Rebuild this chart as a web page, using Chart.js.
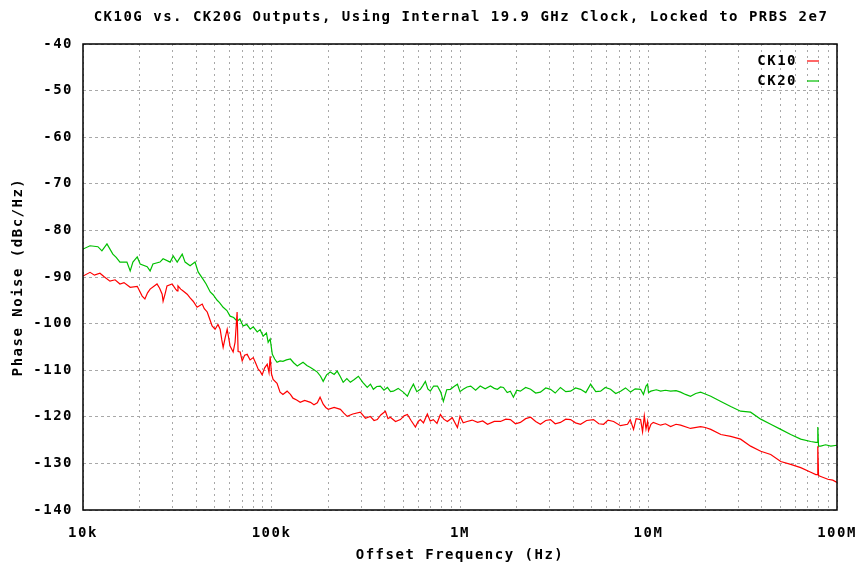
<!DOCTYPE html>
<html lang="en">
<head>
<meta charset="UTF-8">
<title>CK10G vs. CK20G Outputs</title>
<script src="https://cdn.jsdelivr.net/npm/chart.js"></script>
<style>
    body {
        margin: 0;
        padding: 0;
        background: #ffffff;
    }
    #wrap {
        width: 857px;
        height: 566px;
    }
</style>
</head>
<body>
<div id="wrap">
    <canvas id="myChart" width="857" height="566"></canvas>
</div>

<script>
    // offset frequency (Hz) and phase noise (dBc/Hz)
    var ck10Freq = [10000, 10900, 11500, 12300, 13000, 13900, 14800, 15700, 16500, 17800, 19400, 20600, 21300, 22000, 22700, 24700, 25500, 26300, 26600, 27300, 27900, 29700, 31000, 31600, 31900, 33000, 34000, 35700, 37000, 38400, 40300, 42900, 44000, 45600, 47000, 48400, 50200, 52000, 53400, 54500, 55400, 56800, 58200, 60300, 62600, 64100, 65700, 66500, 68200, 69900, 72000, 74300, 77000, 80000, 82500, 85000, 87000, 89200, 92000, 94900, 97000, 98400, 100000, 102000, 107000, 111000, 115000, 121000, 126000, 130000, 136000, 142000, 150000, 161000, 168000, 175000, 181000, 188000, 194000, 200000, 215000, 232000, 242000, 252000, 270000, 296000, 315000, 334000, 350000, 364000, 380000, 402000, 415000, 427000, 455000, 483000, 505000, 526000, 550000, 580000, 600000, 616000, 640000, 671000, 695000, 722000, 755000, 787000, 820000, 857000, 910000, 969000, 1000000, 1040000, 1090000, 1160000, 1240000, 1320000, 1400000, 1520000, 1640000, 1750000, 1850000, 1970000, 2090000, 2230000, 2370000, 2520000, 2670000, 2850000, 3020000, 3200000, 3410000, 3640000, 3860000, 4100000, 4360000, 4700000, 5110000, 5450000, 5780000, 6100000, 6530000, 7100000, 7740000, 8000000, 8330000, 8600000, 9080000, 9300000, 9500000, 9700000, 9890000, 10000000, 10300000, 10600000, 11600000, 12300000, 13100000, 14000000, 14800000, 16700000, 18900000, 20000000, 21400000, 24200000, 27300000, 30800000, 34800000, 39400000, 44500000, 50300000, 56800000, 64200000, 72600000, 77200000, 78500000, 79100000, 79800000, 82000000, 89400000, 95000000, 100000000];
    var ck10Val = [-89.8, -89.0, -89.6, -89.2, -90.0, -90.9, -90.6, -91.5, -91.2, -92.2, -92.0, -94.1, -94.7, -93.4, -92.6, -91.5, -92.4, -93.7, -95.2, -93.5, -91.9, -91.5, -92.6, -93.0, -91.9, -92.6, -93.0, -93.7, -94.5, -95.2, -96.5, -95.8, -96.8, -97.5, -99.0, -100.5, -101.2, -100.2, -101.2, -103.5, -105.1, -103.0, -101.2, -104.8, -106.1, -104.0, -97.5, -106.0, -106.1, -108.0, -106.8, -106.6, -107.8, -107.3, -108.5, -109.8, -110.2, -111.0, -109.5, -108.7, -110.5, -107.0, -110.8, -112.0, -112.8, -114.7, -115.2, -114.5, -115.2, -116.0, -116.4, -116.9, -116.5, -116.9, -117.4, -117.0, -115.8, -117.3, -118.0, -118.4, -118.0, -118.4, -119.2, -119.9, -119.4, -119.0, -120.3, -119.9, -120.8, -120.6, -119.6, -118.8, -120.4, -120.1, -121.0, -120.6, -119.8, -119.5, -120.8, -122.2, -121.0, -120.6, -121.3, -119.4, -120.9, -120.6, -121.4, -119.5, -120.5, -121.0, -120.2, -122.3, -119.9, -121.3, -121.0, -120.7, -121.2, -120.9, -121.6, -121.0, -121.0, -120.5, -120.6, -121.5, -121.2, -120.4, -120.1, -121.0, -121.6, -120.8, -120.6, -121.5, -121.2, -120.5, -120.6, -121.3, -121.6, -120.8, -120.6, -121.5, -121.6, -120.7, -121.0, -121.9, -121.6, -120.6, -122.7, -120.4, -120.6, -123.2, -119.8, -122.6, -121.0, -123.0, -121.6, -121.2, -121.8, -121.5, -122.1, -121.6, -121.8, -122.5, -122.1, -122.3, -122.7, -123.8, -124.2, -124.8, -126.3, -127.4, -128.1, -129.6, -130.2, -130.9, -131.9, -132.4, -132.4, -126.3, -132.6, -132.8, -133.4, -133.6, -134.1];

    var ck20Freq = [10000, 10900, 12000, 12600, 13400, 14400, 15000, 15700, 17100, 17800, 18400, 19400, 20100, 21900, 22700, 23500, 25600, 26600, 29000, 30100, 31600, 33600, 34800, 37000, 39300, 40800, 43400, 45000, 47300, 49000, 51500, 53000, 55400, 58000, 60300, 63000, 65700, 68000, 70700, 74000, 77100, 80000, 84000, 87000, 90300, 94000, 96000, 98400, 101000, 104000, 107000, 111000, 115000, 120000, 126000, 131000, 137000, 147000, 154000, 161000, 168000, 175000, 182000, 188000, 196000, 205000, 215000, 223000, 232000, 240000, 251000, 262000, 275000, 289000, 305000, 322000, 335000, 347000, 362000, 378000, 395000, 412000, 428000, 443000, 470000, 500000, 526000, 545000, 566000, 590000, 616000, 635000, 655000, 675000, 696000, 725000, 759000, 790000, 816000, 850000, 889000, 930000, 969000, 1000000, 1040000, 1090000, 1140000, 1210000, 1280000, 1360000, 1450000, 1520000, 1580000, 1640000, 1700000, 1780000, 1850000, 1920000, 2000000, 2090000, 2230000, 2370000, 2520000, 2670000, 2850000, 3020000, 3200000, 3410000, 3640000, 3860000, 4100000, 4360000, 4650000, 4930000, 5250000, 5570000, 5900000, 6290000, 6700000, 7110000, 7550000, 8030000, 8500000, 9080000, 9400000, 9700000, 9890000, 10000000, 10300000, 11000000, 11600000, 12300000, 13100000, 14000000, 14800000, 15700000, 16700000, 17800000, 18900000, 20000000, 21400000, 24200000, 27300000, 30800000, 34800000, 39400000, 44500000, 50300000, 56800000, 64200000, 72600000, 77200000, 78500000, 79100000, 79800000, 82000000, 87000000, 92700000, 100000000];
    var ck20Val = [-84.0, -83.3, -83.5, -84.4, -82.9, -85.1, -85.8, -86.8, -86.8, -88.7, -86.8, -85.7, -87.2, -87.8, -88.7, -87.2, -86.8, -86.1, -86.8, -85.5, -86.8, -85.1, -86.8, -87.6, -86.8, -88.9, -90.5, -91.5, -93.2, -93.8, -95.0, -95.5, -96.5, -97.2, -98.4, -98.7, -99.5, -99.0, -100.5, -100.2, -101.2, -100.7, -101.8, -101.3, -102.7, -102.0, -104.0, -103.3, -106.6, -107.6, -108.3, -108.0, -108.1, -107.8, -107.6, -108.4, -109.1, -108.3, -109.0, -109.4, -109.9, -110.4, -111.3, -112.4, -111.0, -110.4, -110.9, -110.2, -111.4, -112.6, -111.8, -112.6, -112.0, -111.3, -112.6, -113.7, -113.0, -114.1, -113.5, -113.4, -114.3, -113.7, -114.6, -114.5, -113.9, -114.7, -115.6, -114.2, -113.0, -114.6, -114.1, -113.3, -112.4, -114.0, -114.5, -113.4, -113.4, -114.7, -116.7, -114.2, -114.1, -113.5, -113.0, -114.6, -114.1, -113.6, -113.4, -114.3, -113.4, -114.0, -113.4, -113.9, -114.1, -113.6, -113.7, -114.8, -114.5, -115.8, -114.3, -114.5, -113.7, -114.1, -114.9, -114.7, -113.8, -114.1, -114.9, -113.7, -114.6, -114.5, -113.8, -114.1, -114.8, -113.0, -114.6, -114.5, -113.7, -114.1, -115.0, -114.5, -113.8, -114.7, -114.0, -114.1, -115.2, -113.4, -113.0, -114.8, -114.5, -114.2, -114.5, -114.3, -114.5, -114.4, -114.7, -115.2, -115.6, -115.0, -114.7, -115.1, -115.6, -116.7, -117.8, -118.8, -119.0, -120.5, -121.6, -122.7, -123.8, -124.8, -125.3, -125.5, -125.5, -122.2, -126.3, -126.3, -126.0, -126.3, -126.1];

    var seriesNames = ['CK10', 'CK20'];
    var seriesColors = ['#ff0000', '#00c000'];

    var xDecades = [1e4, 1e5, 1e6, 1e7, 1e8];
    var xTickLabels = ['10k', '100k', '1M', '10M', '100M'];

    var titleText = 'CK10G vs. CK20G Outputs, Using Internal 19.9 GHz Clock, Locked to PRBS 2e7';
    var xTitle = 'Offset Frequency (Hz)';
    var yTitle = 'Phase Noise (dBc/Hz)';

    var FONT = 'DejaVu Sans Mono';
    var SPACING = '1.5px';

    function toPoints(xs, ys) {
        var pts = [];
        for (var i = 0; i < xs.length; i++) {
            pts.push({ x: xs[i], y: ys[i] });
        }
        return pts;
    }

    // gnuplot-ish wide letters: add letter spacing to every text the canvas draws
    var spacingPlugin = {
        id: 'spacing',
        beforeInit: function (chart) { chart.ctx.letterSpacing = SPACING; },
        beforeUpdate: function (chart) { chart.ctx.letterSpacing = SPACING; },
        beforeDraw: function (chart) { chart.ctx.letterSpacing = SPACING; }
    };

    // title centred over the plot, frame round the plot, key in the top right corner
    var decorPlugin = {
        id: 'decor',
        afterDraw: function (chart) {
            var ctx = chart.ctx;
            var a = chart.chartArea;
            ctx.save();
            ctx.letterSpacing = SPACING;
            ctx.font = 'bold 14px "' + FONT + '"';
            ctx.fillStyle = '#000';
            ctx.textAlign = 'center';
            ctx.textBaseline = 'middle';
            ctx.fillText(titleText, (a.left + a.right) / 2 + 1, 17);

            ctx.strokeStyle = '#000';
            ctx.lineWidth = 1.5;
            ctx.strokeRect(a.left, a.top, a.right - a.left, a.bottom - a.top);

            ctx.textAlign = 'right';
            chart.data.datasets.forEach(function (ds, i) {
                var y = a.top + 17 + i * 20;
                ctx.fillStyle = '#000';
                ctx.fillText(ds.label, a.right - 40, y);
                ctx.strokeStyle = ds.borderColor;
                ctx.lineWidth = 1.2;
                ctx.beginPath();
                ctx.moveTo(a.right - 30, y);
                ctx.lineTo(a.right - 18, y);
                ctx.stroke();
            });
            ctx.restore();
        }
    };

    var ctx = document.getElementById('myChart').getContext('2d');
    var myChart = new Chart(ctx, {
        type: 'line',
        data: {
            datasets: [{
                label: seriesNames[0],
                data: toPoints(ck10Freq, ck10Val),
                borderColor: seriesColors[0],
                borderWidth: 1.2,
                pointRadius: 0,
                tension: 0,
                fill: false
            }, {
                label: seriesNames[1],
                data: toPoints(ck20Freq, ck20Val),
                borderColor: seriesColors[1],
                borderWidth: 1.2,
                pointRadius: 0,
                tension: 0,
                fill: false
            }]
        },
        options: {
            responsive: false,
            animation: false,
            devicePixelRatio: 1,
            layout: {
                padding: { top: 44, right: 20, left: 0, bottom: 0 }
            },
            plugins: {
                legend: { display: false },
                title: { display: false },
                tooltip: { enabled: false }
            },
            scales: {
                x: {
                    type: 'logarithmic',
                    min: 1e4,
                    max: 1e8,
                    afterBuildTicks: function (scale) {
                        var ticks = [];
                        for (var d = 0; d < xDecades.length; d++) {
                            var steps = d < xDecades.length - 1 ? 9 : 1;
                            for (var m = 1; m <= steps; m++) {
                                ticks.push({ value: xDecades[d] * m });
                            }
                        }
                        scale.ticks = ticks;
                    },
                    afterFit: function (scale) {
                        scale.height = 56;
                        scale.paddingLeft = 0;
                        scale.paddingRight = 0;
                    },
                    ticks: {
                        autoSkip: false,
                        maxRotation: 0,
                        padding: 15,
                        color: '#000',
                        font: { family: FONT, weight: 'bold', size: 14 },
                        callback: function (value) {
                            var idx = xDecades.indexOf(value);
                            return idx >= 0 ? xTickLabels[idx] : '';
                        }
                    },
                    grid: {
                        color: '#a8a8a8',
                        lineWidth: 1,
                        drawTicks: false
                    },
                    border: { display: false, dash: [2, 4] },
                    title: {
                        display: true,
                        text: xTitle,
                        color: '#000',
                        font: { family: FONT, weight: 'bold', size: 14 },
                        padding: { top: 0, bottom: 2 }
                    }
                },
                y: {
                    min: -140,
                    max: -40,
                    afterFit: function (scale) { scale.width = 83; },
                    ticks: {
                        stepSize: 10,
                        padding: 10,
                        color: '#000',
                        font: { family: FONT, weight: 'bold', size: 14 }
                    },
                    grid: {
                        color: '#a8a8a8',
                        lineWidth: 1,
                        drawTicks: false
                    },
                    border: { display: false, dash: [3, 3] },
                    title: {
                        display: true,
                        text: yTitle,
                        color: '#000',
                        font: { family: FONT, weight: 'bold', size: 14 },
                        padding: { top: 10, bottom: 0 }
                    }
                }
            }
        },
        plugins: [spacingPlugin, decorPlugin]
    });
</script>
</body>
</html>
